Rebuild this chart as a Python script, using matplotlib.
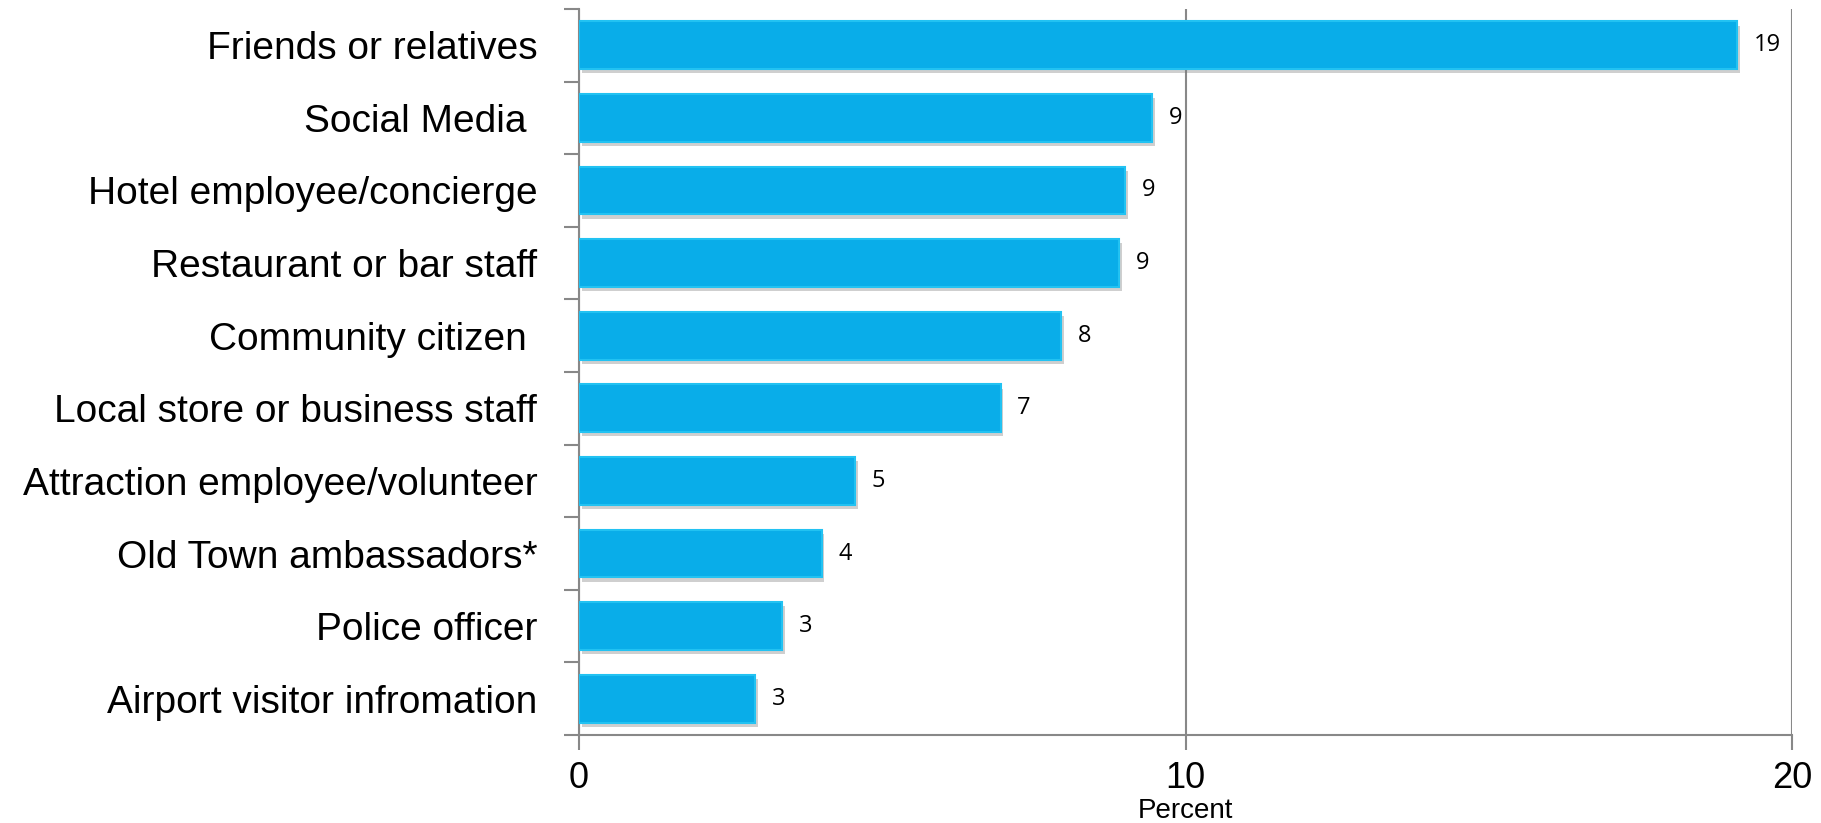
import matplotlib
matplotlib.use("Agg")
import matplotlib.pyplot as plt
import matplotlib.patheffects as pe
import numpy as np

# data (percent)
categories = ["Friends or relatives", "Social Media ", "Hotel employee/concierge",
              "Restaurant or bar staff", "Community citizen ", "Local store or business staff",
              "Attraction employee/volunteer", "Old Town ambassadors*", "Police officer",
              "Airport visitor infromation"]
values = [19.1, 9.45, 9.0, 8.9, 7.95, 6.95, 4.55, 4.0, 3.35, 2.9]
value_labels = ["19", "9", "9", "9", "8", "7", "5", "4", "3", "3"]
xticks = [0, 10, 20]

narrow = ["Liberation Sans Narrow", "Liberation Sans", "DejaVu Sans"]

fig = plt.figure(figsize=(18.21, 8.23), dpi=100)
ax = fig.add_axes([579/1821, 1-735/823, (1792-579)/1821, (735-9)/823])

y = np.arange(len(categories))
bars = ax.barh(y, values, height=0.66, color="#09ADE9", edgecolor="#22C2F2",
               linewidth=1.5, zorder=3)
for b in bars:
    b.set_path_effects([pe.SimplePatchShadow(offset=(2, -3), shadow_rgbFace="#777777", alpha=0.35),
                        pe.Normal()])

for yi, v, lab in zip(y, values, value_labels):
    ax.annotate(lab, (v, yi), xytext=(12, 0), textcoords="offset points",
                va="center", ha="left", fontsize=17, family=["Open Sans", "DejaVu Sans"])

ax.set_xlim(0, 20)
ax.set_ylim(len(categories) - 0.5, -0.5)

# category labels on major ticks, tick marks at the category boundaries
ax.set_yticks(y)
ax.set_yticklabels(categories, fontsize=28, family=narrow)
ax.tick_params(axis="y", which="major", length=0, pad=30)
ax.set_yticks(np.arange(-0.5, len(categories)), minor=True)
ax.tick_params(axis="y", which="minor", length=11, width=1.5, color="#888888", direction="out")

ax.set_xticks(xticks)
ax.set_xticklabels([str(t) for t in xticks], fontsize=26, family=narrow)
ax.tick_params(axis="x", length=11, width=1.5, color="#888888", pad=8)
ax.set_xlabel("Percent", fontsize=20, family=narrow, labelpad=1)

ax.grid(axis="x", color="#888888", linewidth=1.5, zorder=0)
ax.set_axisbelow(True)
for s in ["top", "right"]:
    ax.spines[s].set_visible(False)
for s in ["left", "bottom"]:
    ax.spines[s].set_color("#888888")
    ax.spines[s].set_linewidth(1.5)

fig.savefig("out.png", dpi=100)
